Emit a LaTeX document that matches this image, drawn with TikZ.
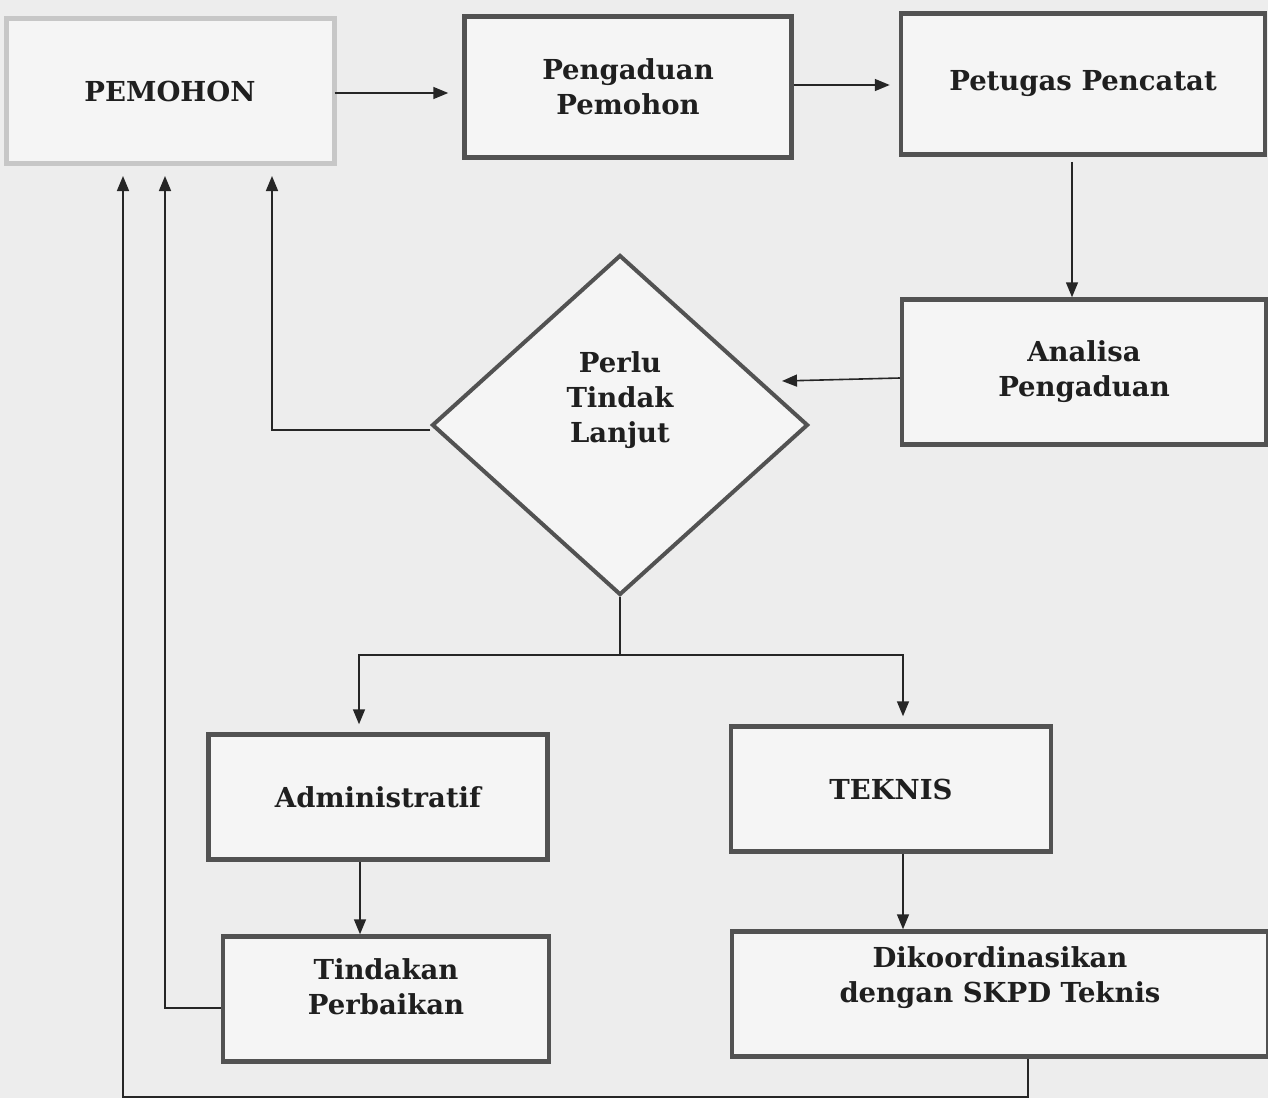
\documentclass[tikz,border=0pt]{standalone}
\usepackage{fontspec}
\setmainfont{DejaVu Serif}
\usetikzlibrary{shapes.geometric,arrows.meta}

\begin{document}
\begin{tikzpicture}[
    x=1pt, y=-1pt,
    every node/.style={font=\bfseries\fontsize{27.5}{35}\selectfont, align=center, text=black!88},
    box/.style={draw=black!68, line width=4.5pt, fill=white!96!black, inner sep=0pt},
    firstbox/.style={draw=black!22, line width=5pt, fill=white!96!black, inner sep=0pt},
    decision/.style={diamond, draw=black!68, line width=4pt, fill=white!96!black,
                     minimum width=376pt, minimum height=340pt, inner sep=0pt},
    flow/.style={draw=black!85, line width=1.6pt, -{Triangle[length=15pt,width=12pt]}}
  ]
  \useasboundingbox (0,0) rectangle (1268,1098);
  \fill[white!93!black] (0,0) rectangle (1268,1098);

  \node[firstbox, minimum width=328pt, minimum height=145pt] (pemohon) at (170,91) {PEMOHON};
  \node[box, minimum width=327pt, minimum height=141pt] (pengaduan) at (628,87) {Pengaduan\\Pemohon};
  \node[box, minimum width=364pt, minimum height=141pt] (petugas) at (1083,84) {Petugas Pencatat};
  \node[box, minimum width=364pt, minimum height=145pt] (analisa) at (1084,372) {Analisa\\Pengaduan};
  \node[decision, label={[yshift=25pt]center:Perlu\\Tindak\\Lanjut}] (cek) at (620,425) {};
  \node[box, minimum width=339pt, minimum height=125pt] (admin) at (378,797) {Administratif};
  \node[box, minimum width=320pt, minimum height=125pt] (teknis) at (891,789) {TEKNIS};
  \node[box, minimum width=326pt, minimum height=125pt,
        label={[yshift=12pt]center:Tindakan\\Perbaikan}] (tindakan) at (386,999) {};
  \node[box, minimum width=536pt, minimum height=125pt,
        label={[yshift=16pt]center:Dikoordinasikan\\dengan SKPD Teknis}] (koord) at (1000,994) {};
  \coordinate (cabang) at (620,655);

  \draw[flow, shorten >=14pt, shorten <=-2pt] ([yshift=-2pt]pemohon.east) -- ([yshift=-2pt]pemohon.east -| pengaduan.west);
  \draw[flow, shorten >=9pt] ([yshift=2pt]pengaduan.east) -- ([yshift=2pt]pengaduan.east -| petugas.west);
  \draw[flow, shorten <=5pt] ([xshift=-11pt]petugas.south) -- ([xshift=-12pt]analisa.north);
  \draw[flow] ([yshift=-6pt]analisa.west) -- ([xshift=-28pt,yshift=-9pt]analisa.west -| cek.east);
  \draw[flow, shorten >=10pt] ([yshift=-5pt]cek.west) -| ([xshift=102pt]pemohon.south);
  \draw[line width=1.6pt, draw=black!85] (cek.south) -- (cabang);
  \draw[flow, shorten >=8pt] (cabang) -| ([xshift=-19pt]admin.north);
  \draw[flow, shorten >=8pt] (cabang) -| ([xshift=12pt]teknis.north);
  \draw[flow] ([xshift=-18pt]admin.south) -- ([xshift=-26pt]tindakan.north);
  \draw[flow] ([xshift=12pt]teknis.south) -- ([xshift=-97pt]koord.north);
  \draw[flow, shorten >=10pt] ([yshift=-9pt]tindakan.west) -| ([xshift=-5pt]pemohon.south);
  \draw[flow, shorten >=10pt] ([xshift=28pt]koord.south) -- ++(0,38) -| ([xshift=-47pt]pemohon.south);
\end{tikzpicture}
\end{document}
